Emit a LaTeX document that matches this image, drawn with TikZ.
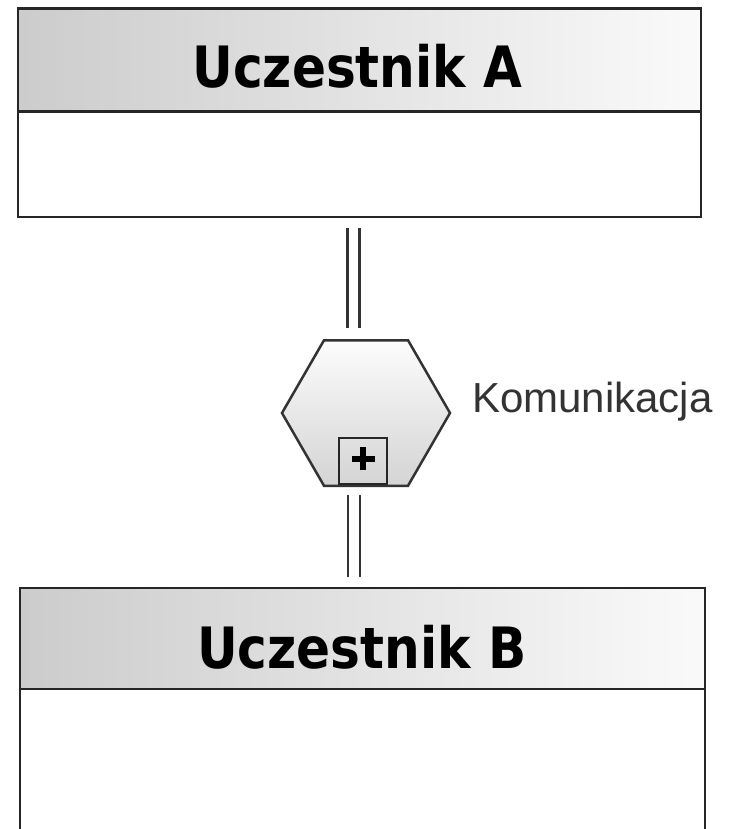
\documentclass[tikz,border=0pt]{standalone}
\usepackage{fontspec}
\setmainfont{Liberation Sans}
\newfontfamily\headfont[FakeStretch=0.88]{DejaVu Sans}
\usetikzlibrary{shapes.geometric}

\begin{document}
\begin{tikzpicture}
  [x=1pt,y=-1pt,
   box/.style={draw=black!85,line width=2.5pt,rectangle,inner sep=0pt},
   head/.style={box,minimum height=103pt,left color=black!20,right color=black!2},
   body/.style={box,fill=white},
   title/.style={anchor=base,inner sep=0pt,font=\headfont\bfseries\fontsize{57}{60}\selectfont},
   hexa/.style={draw=black!80,line width=2.5pt,regular polygon,regular polygon sides=6,
     minimum size=168pt,inner sep=0pt,top color=black!1,bottom color=black!17},
   link/.style={draw=black!80,line width=2.5pt,double=white,double distance=9.5pt}]
  \clip (0,0) rectangle (729,829);
  \fill[white] (0,0) rectangle (729,829);
  % participant A
  \node[head,minimum width=683pt] (headA) at (359.5,60) {};
  \node[body,minimum width=683pt,minimum height=105pt] (bodyA) at (359.5,164.5) {};
  \node[title] (titleA) at (357.5,88) {Uczestnik A};
  % participant B
  \node[head,minimum width=685pt,minimum height=101pt] (headB) at (362.5,638.5) {};
  \node[body,minimum width=685pt,minimum height=170pt] (bodyB) at (362.5,774) {};
  \node[title] (titleB) at (362,668) {Uczestnik B};
  % communication
  \node[hexa] (comm) at (366,413) {};
  \node[box,draw=black!85,minimum width=48pt,minimum height=46pt,anchor=south] (plus) at (363,485) {};
  \draw[line width=6pt] ([xshift=-11.5pt,yshift=2pt]plus.center) -- ([xshift=11.5pt,yshift=2pt]plus.center)
                        ([yshift=-9.5pt]plus.center) -- ([yshift=13.5pt]plus.center);
  \node[right,text=black!80,font=\fontsize{42}{46}\selectfont,inner sep=0pt] (commlbl) at (472,402) {Komunikacja};
  \draw[link,shorten <=10pt,shorten >=11pt] ([xshift=-6pt]bodyA.south) -- ([xshift=-6pt]bodyA.south |- comm.north);
  \draw[link,shorten <=8pt,shorten >=10pt] ([xshift=-12pt]comm.south) -- ([xshift=-12pt]comm.south |- headB.north);
\end{tikzpicture}
\end{document}
